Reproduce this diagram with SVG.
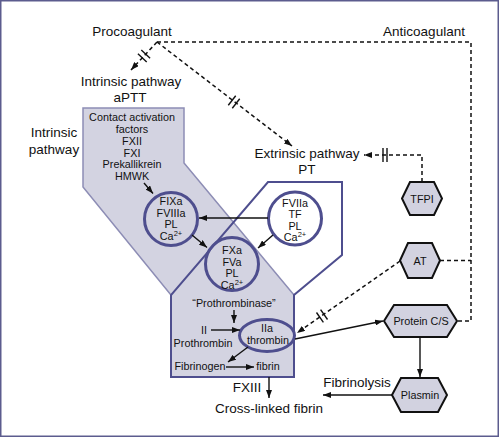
<svg xmlns="http://www.w3.org/2000/svg" width="500" height="438" viewBox="0 0 500 438">
<style>
text{font-family:"Liberation Sans",Arial,sans-serif;fill:#111;text-anchor:middle}
.lg{font-size:13.5px}
.sm{font-size:10.8px}
.sup{font-size:7.5px}
.dash{fill:none;stroke:#111;stroke-width:1.5;stroke-dasharray:4 3}
.sol{fill:none;stroke:#111;stroke-width:1.4}
.brk{stroke:#111;stroke-width:1.4}
.ring{fill:none;stroke:#4e4e8e;stroke-width:3}
.hex{fill:#d2d2e0;stroke:#111;stroke-width:2}
</style>
<defs>
<marker id="ah" viewBox="0 0 8 6" refX="8" refY="3" markerWidth="8" markerHeight="6" markerUnits="userSpaceOnUse" orient="auto">
<path d="M0,0 L8,3 L0,6 z" fill="#111"/>
</marker>
</defs>
<rect x="0.75" y="0.75" width="497.5" height="435.5" fill="#fff" stroke="#5c5c8e" stroke-width="1.5"/>

<g id="regions">
<polygon points="83,108 184,108 184,163 294,295 294,377 171,377 171,295 83,187" fill="#d3d3e1" stroke="#8d8db5" stroke-width="1.5"/>
<polygon points="171,377 171,295 268,182 342,182 342,255 294,295 294,377" fill="none" stroke="#4e4e8e" stroke-width="2"/>
</g>

<g id="labels">
<text class="lg" x="132" y="36">Procoagulant</text>
<text class="lg" x="424" y="36">Anticoagulant</text>
<text class="lg" x="131" y="86">Intrinsic pathway</text>
<text class="lg" x="130" y="102">aPTT</text>
<text class="lg" x="54" y="137">Intrinsic</text>
<text class="lg" x="54" y="154">pathway</text>
<text class="lg" x="307" y="158">Extrinsic pathway</text>
<text class="lg" x="307" y="174">PT</text>
<text class="lg" x="357" y="387">Fibrinolysis</text>
<text class="lg" x="247" y="392">FXIII</text>
<text class="lg" x="269" y="413">Cross-linked fibrin</text>
</g>

<g id="contact">
<text class="sm" x="132" y="121">Contact activation</text>
<text class="sm" x="132" y="133">factors</text>
<text class="sm" x="132" y="145">FXII</text>
<text class="sm" x="132" y="156.5">FXI</text>
<text class="sm" x="132" y="168">Prekallikrein</text>
<text class="sm" x="132" y="180">HMWK</text>
</g>

<g id="fixa">
<circle class="ring" cx="171" cy="219" r="26.5"/>
<text class="sm" x="171" y="205">FIXa</text>
<text class="sm" x="171" y="216.5">FVIIIa</text>
<text class="sm" x="171" y="228">PL</text>
<text class="sm" x="171" y="239.5">Ca<tspan class="sup" dy="-4">2+</tspan></text>
</g>

<g id="fviia">
<circle cx="295" cy="218.5" r="26.5" fill="#fff" stroke="#4e4e8e" stroke-width="3"/>
<text class="sm" x="295" y="206.5">FVIIa</text>
<text class="sm" x="295" y="218">TF</text>
<text class="sm" x="295" y="229.5">PL</text>
<text class="sm" x="295" y="241">Ca<tspan class="sup" dy="-4">2+</tspan></text>
</g>

<g id="fxa">
<circle class="ring" cx="232" cy="264" r="26.5"/>
<text class="sm" x="232" y="254">FXa</text>
<text class="sm" x="232" y="265.5">FVa</text>
<text class="sm" x="232" y="277">PL</text>
<text class="sm" x="232" y="288.5">Ca<tspan class="sup" dy="-4">2+</tspan></text>
</g>

<g id="common">
<text class="sm" x="234" y="307">“Prothrombinase”</text>
<text class="sm" x="204" y="334">II</text>
<text class="sm" x="203" y="347">Prothrombin</text>
<text class="sm" x="200" y="370">Fibrinogen</text>
<text class="sm" x="268" y="370">fibrin</text>
</g>

<g id="thrombin">
<ellipse cx="267" cy="335.5" rx="27.5" ry="16" fill="#d3d3e1" stroke="#4e4e8e" stroke-width="3"/>
<text class="sm" x="267" y="332">IIa</text>
<text class="sm" x="268" y="344">thrombin</text>
</g>

<g id="tfpi">
<polygon class="hex" points="402,198.5 410,182 434,182 442,198.5 434,215 410,215"/>
<text class="sm" x="422" y="202.5">TFPI</text>
</g>
<g id="at">
<polygon class="hex" points="400,260.5 408,243 432,243 440,260.5 432,278 408,278"/>
<text class="sm" x="420" y="264.5">AT</text>
</g>
<g id="proteincs">
<polygon class="hex" points="384,321 394,305 447,305 457,321 447,337 394,337"/>
<text class="sm" x="421" y="325">Protein C/S</text>
</g>
<g id="plasmin">
<polygon class="hex" points="392,395 401,378 438,378 447,395 438,412 401,412"/>
<text class="sm" x="420" y="399">Plasmin</text>
</g>

<g id="connectors">
<path class="dash" d="M157,42 L131,70" marker-end="url(#ah)"/>
<path class="dash" d="M157,42 L292,146" marker-end="url(#ah)"/>
<path class="dash" d="M157,42 L471,42 L471,321 L457,321"/>
<path class="dash" d="M440,260.5 L471,260.5"/>
<path class="dash" d="M422,182 L422,155 L364,155" marker-end="url(#ah)"/>
<path class="dash" d="M400,261 L297,333" marker-end="url(#ah)"/>
<line class="brk" x1="146.7" y1="61.9" x2="137.9" y2="53.7"/>
<line class="brk" x1="150.1" y1="58.3" x2="141.3" y2="50.1"/>
<line class="brk" x1="239.7" y1="98.8" x2="232.3" y2="108.2"/>
<line class="brk" x1="235.7" y1="95.8" x2="228.3" y2="105.2"/>
<line class="brk" x1="383" y1="148" x2="383" y2="162"/>
<line class="brk" x1="387" y1="148" x2="387" y2="162"/>
<line class="brk" x1="323.4" y1="322.3" x2="316.5" y2="312.5"/>
<line class="brk" x1="327.5" y1="319.5" x2="320.6" y2="309.7"/>
<path class="sol" d="M144,183 L153,193.5" marker-end="url(#ah)"/>
<path class="sol" d="M268,218 L199,218" marker-end="url(#ah)"/>
<path class="sol" d="M192,235 L207,247.5" marker-end="url(#ah)"/>
<path class="sol" d="M273,235 L258,248" marker-end="url(#ah)"/>
<path class="sol" d="M234,310 L234,323" marker-end="url(#ah)"/>
<path class="sol" d="M211,330 L240,330" marker-end="url(#ah)"/>
<path class="sol" d="M248,347 L228,362" marker-end="url(#ah)"/>
<path class="sol" d="M226,367 L254,367" marker-end="url(#ah)"/>
<path class="sol" d="M269,377 L269,398" marker-end="url(#ah)"/>
<path class="sol" d="M295,339 L383,321" marker-end="url(#ah)"/>
<path class="sol" d="M420,337 L420,377" marker-end="url(#ah)"/>
<path class="sol" d="M392,395 L323,395" marker-end="url(#ah)"/>
</g>
</svg>
